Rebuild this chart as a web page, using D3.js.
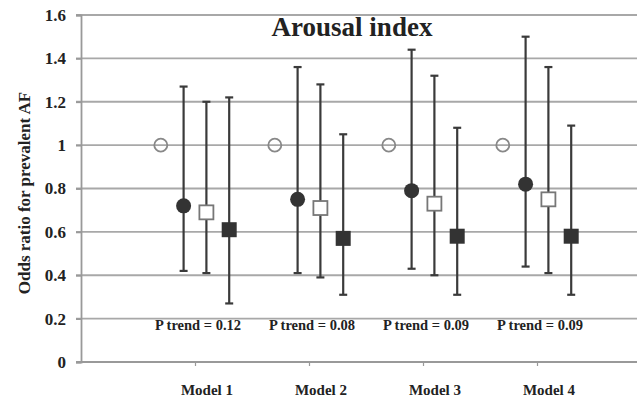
<!DOCTYPE html>
<html>
<head>
<meta charset="utf-8">
<script src="https://cdn.jsdelivr.net/npm/d3@7"></script>
<style>
  body { margin: 0; background: #fff; }
  text { font-family: "Liberation Serif", "Times New Roman", serif; font-weight: bold; fill: #222; }
</style>
</head>
<body>
<div id="chart"></div>
<script>
// values
var models = ["Model 1", "Model 2", "Model 3", "Model 4"];
var pTrend = ["P trend = 0.12", "P trend = 0.08", "P trend = 0.09", "P trend = 0.09"];
var yTicks = [0, 0.2, 0.4, 0.6, 0.8, 1, 1.2, 1.4, 1.6];

// reference quartile (OR = 1) then three higher quartiles
var refOR = [1, 1, 1, 1];
var q2OR = [0.72, 0.75, 0.79, 0.82];
var q2Lo = [0.42, 0.41, 0.43, 0.44];
var q2Hi = [1.27, 1.36, 1.44, 1.50];
var q3OR = [0.69, 0.71, 0.73, 0.75];
var q3Lo = [0.41, 0.39, 0.40, 0.41];
var q3Hi = [1.20, 1.28, 1.32, 1.36];
var q4OR = [0.61, 0.57, 0.58, 0.58];
var q4Lo = [0.27, 0.31, 0.31, 0.31];
var q4Hi = [1.22, 1.05, 1.08, 1.09];

var w = 637, h = 399;
var padL = 81, padT = 15, axisY = 362;

var x = d3.scaleLinear().domain([0, 5]).range([padL, padL + 5 * 114]);
var y = d3.scaleLinear().domain([0, 1.6]).range([axisY, padT]);

var svg = d3.select("#chart").append("svg")
    .attr("width", w)
    .attr("height", h);

// gridlines
svg.append("g").selectAll("line")
    .data(yTicks.filter(function (d) { return d > 0; }))
  .enter().append("line")
    .attr("x1", padL - 5).attr("x2", w)
    .attr("y1", function (d) { return y(d); })
    .attr("y2", function (d) { return y(d); })
    .style("stroke", "#a8a8a8")
    .style("stroke-width", 1.8);

// y axis
var yAxis = d3.axisLeft(y).tickValues(yTicks).tickSize(5).tickPadding(10)
    .tickFormat(function (d) { return String(+d.toFixed(1)); });
var gy = svg.append("g").attr("transform", "translate(" + padL + ",0)").call(yAxis);
gy.select(".domain").style("stroke", "#999").style("stroke-width", 1.8);
gy.selectAll(".tick line").style("stroke", "#999").style("stroke-width", 1.8);
gy.selectAll(".tick text").style("font-size", "17px").style("fill", "#222")
    .style("font-family", "Liberation Serif, serif").style("font-weight", "bold");

// x axis
var xAxis = d3.axisBottom(x).tickValues([1, 2, 3, 4]).tickSize(4).tickFormat("");
var gx = svg.append("g").attr("transform", "translate(0," + axisY + ")").call(xAxis);
gx.select(".domain").remove();
gx.selectAll(".tick line").style("stroke", "#999").style("stroke-width", 1.2);
svg.append("line")
    .attr("x1", padL - 5).attr("x2", w)
    .attr("y1", axisY).attr("y2", axisY)
    .style("stroke", "#999").style("stroke-width", 2);

// model labels
svg.append("g").selectAll("text")
    .data(models)
  .enter().append("text")
    .attr("x", function (d, i) { return x(i + 1) + 12; })
    .attr("y", 395)
    .attr("text-anchor", "middle")
    .style("font-size", "15px")
    .text(function (d) { return d; });

// p trend labels
svg.append("g").selectAll("text")
    .data(pTrend)
  .enter().append("text")
    .attr("x", function (d, i) { return x(i + 1) + 3; })
    .attr("y", 330)
    .attr("text-anchor", "middle")
    .style("font-size", "14.5px")
    .text(function (d) { return d; });

// title
svg.append("text")
    .attr("x", 352).attr("y", 36)
    .attr("text-anchor", "middle")
    .style("font-size", "27px")
    .text("Arousal index");

// y title
svg.append("text")
    .attr("transform", "translate(30,193)rotate(-90)")
    .attr("text-anchor", "middle")
    .style("font-size", "17px")
    .text("Odds ratio for prevalent AF");

// error bars
var series = [
  { off: -0.1, or: q2OR, lo: q2Lo, hi: q2Hi },
  { off: 0.1, or: q3OR, lo: q3Lo, hi: q3Hi },
  { off: 0.3, or: q4OR, lo: q4Lo, hi: q4Hi }
];
var bars = [];
series.forEach(function (s, k) {
  models.forEach(function (m, i) {
    bars.push({ k: k, x: i + 1 + s.off, or: s.or[i], lo: s.lo[i], hi: s.hi[i] });
  });
});

var eb = svg.append("g").selectAll("g").data(bars).enter().append("g");
eb.append("line")
    .attr("x1", function (d) { return x(d.x); })
    .attr("x2", function (d) { return x(d.x); })
    .attr("y1", function (d) { return y(d.lo); })
    .attr("y2", function (d) { return y(d.hi); })
    .style("stroke", "#3a3a3a").style("stroke-width", 2.2);
["lo", "hi"].forEach(function (key) {
  eb.append("line")
      .attr("x1", function (d) { return x(d.x) - 4; })
      .attr("x2", function (d) { return x(d.x) + 4; })
      .attr("y1", function (d) { return y(d[key]); })
      .attr("y2", function (d) { return y(d[key]); })
      .style("stroke", "#3a3a3a").style("stroke-width", 2.2);
});

// reference markers (gridline shows through)
svg.append("g").selectAll("circle")
    .data(refOR)
  .enter().append("circle")
    .attr("cx", function (d, i) { return x(i + 0.7); })
    .attr("cy", function (d) { return y(d); })
    .attr("r", 6.5)
    .style("fill", "none")
    .style("stroke", "#888").style("stroke-width", 1.8);

// filled circles
svg.append("g").selectAll("circle")
    .data(bars.filter(function (d) { return d.k === 0; }))
  .enter().append("circle")
    .attr("cx", function (d) { return x(d.x); })
    .attr("cy", function (d) { return y(d.or); })
    .attr("r", 7.5)
    .style("fill", "#333");

// open squares
svg.append("g").selectAll("rect")
    .data(bars.filter(function (d) { return d.k === 1; }))
  .enter().append("rect")
    .attr("x", function (d) { return x(d.x) - 7; })
    .attr("y", function (d) { return y(d.or) - 7; })
    .attr("width", 14).attr("height", 14)
    .style("fill", "#fff")
    .style("stroke", "#777").style("stroke-width", 1.8);

// filled squares
svg.append("g").selectAll("rect")
    .data(bars.filter(function (d) { return d.k === 2; }))
  .enter().append("rect")
    .attr("x", function (d) { return x(d.x) - 7.5; })
    .attr("y", function (d) { return y(d.or) - 7.5; })
    .attr("width", 15).attr("height", 15)
    .style("fill", "#333");
</script>
</body>
</html>
